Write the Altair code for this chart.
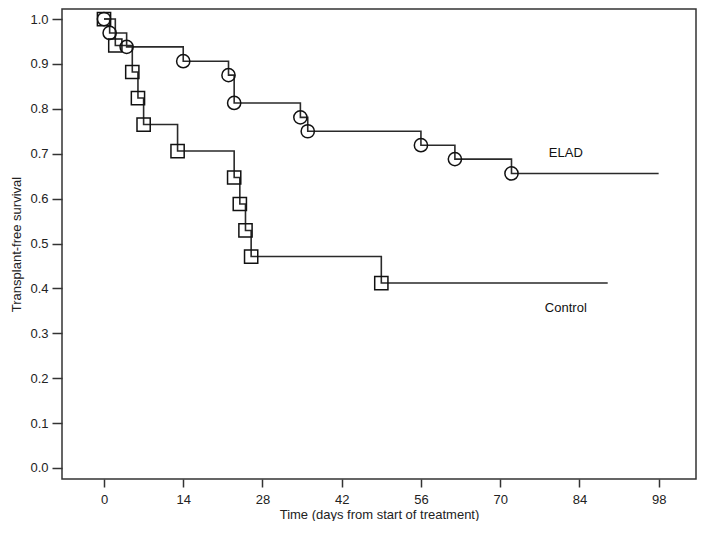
import altair as alt
import pandas as pd

# Kaplan-Meier step data
elad_t = [0, 1, 4, 14, 22, 23, 34.7, 36, 56, 62, 72]
elad_s = [1.0, 0.969, 0.938, 0.906, 0.875, 0.813, 0.781, 0.750, 0.719, 0.688, 0.656]
elad_end = 98

ctrl_t = [0, 2, 5, 6, 7, 13, 23, 24, 25, 26, 49]
ctrl_s = [1.0, 0.941, 0.882, 0.824, 0.765, 0.706, 0.647, 0.588, 0.529, 0.471, 0.412]
ctrl_end = 89

x_ticks = [0, 14, 28, 42, 56, 70, 84, 98]
y_ticks = [0.0, 0.1, 0.2, 0.3, 0.4, 0.5, 0.6, 0.7, 0.8, 0.9, 1.0]

label_names = ["ELAD", "Control"]
label_t = [81.6, 81.6]
label_s = [0.701, 0.356]

FONT = "Liberation Sans"
W, H = 634, 470

line_rows = []
for t, s in zip(elad_t, elad_s):
    line_rows.append({"group": "ELAD", "t": t, "s": s})
line_rows.append({"group": "ELAD", "t": elad_end, "s": elad_s[-1]})
for t, s in zip(ctrl_t, ctrl_s):
    line_rows.append({"group": "Control", "t": t, "s": s})
line_rows.append({"group": "Control", "t": ctrl_end, "s": ctrl_s[-1]})
lines_df = pd.DataFrame(line_rows)

elad_pts = pd.DataFrame({"t": elad_t, "s": elad_s})
ctrl_pts = pd.DataFrame({"t": ctrl_t, "s": ctrl_s})
labels_df = pd.DataFrame({"name": label_names, "t": label_t, "s": label_s})

xscale = alt.Scale(domain=[-7.42, 104.6], nice=False, zero=False)
yscale = alt.Scale(domain=[-0.0245, 1.0223], nice=False, zero=False)

x_axis = alt.Axis(
    values=x_ticks, title="Time (days from start of treatment)", grid=False,
    domain=False, tickSize=8, tickColor="#333", tickWidth=1.5,
    labelFont=FONT, labelFontSize=13, labelColor="#222", labelPadding=6,
    titleFont=FONT, titleFontSize=13, titleFontWeight="normal", titleColor="#222",
    titleY=35, titleBaseline="middle",
)
y_axis = alt.Axis(
    values=y_ticks, format=".1f", title="Transplant-free survival", grid=False,
    domain=False, tickSize=10, tickColor="#333", tickWidth=1.5,
    labelFont=FONT, labelFontSize=13, labelColor="#222", labelPadding=4,
    titleFont=FONT, titleFontSize=13, titleFontWeight="normal", titleColor="#222",
    titleX=-46, titleY=H / 2, titleBaseline="middle", titleAlign="center",
)

lines = alt.Chart(lines_df).mark_line(
    interpolate="step-after", color="#2a2a2a", strokeWidth=1.6
).encode(
    x=alt.X("t:Q", scale=xscale, axis=x_axis),
    y=alt.Y("s:Q", scale=yscale, axis=y_axis),
    detail="group:N",
)

circles = alt.Chart(elad_pts).mark_point(
    shape="circle", filled=False, color="#111", strokeWidth=1.5, size=175, opacity=1
).encode(x=alt.X("t:Q", scale=xscale), y=alt.Y("s:Q", scale=yscale))

squares = alt.Chart(ctrl_pts).mark_point(
    shape="square", filled=False, color="#111", strokeWidth=1.5, size=175, opacity=1
).encode(x=alt.X("t:Q", scale=xscale), y=alt.Y("s:Q", scale=yscale))

texts = alt.Chart(labels_df).mark_text(
    font=FONT, fontSize=13, color="#111", align="center", baseline="middle"
).encode(x=alt.X("t:Q", scale=xscale), y=alt.Y("s:Q", scale=yscale), text="name:N")

chart = alt.layer(lines, circles, squares, texts).properties(
    width=W, height=H,
    autosize=alt.AutoSizeParams(type="none"),
    padding={"left": 54, "top": 1, "right": 2, "bottom": 42},
).configure_view(
    stroke="#333", strokeWidth=1.5
)

chart.save("out.html", embed_options={"renderer": "svg", "actions": False})
